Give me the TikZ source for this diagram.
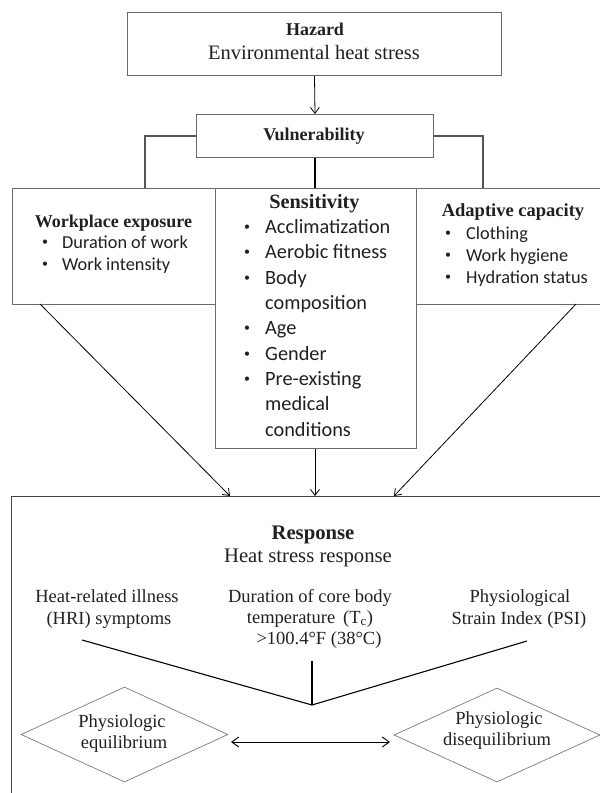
\documentclass[tikz,border=0pt]{standalone}
\usepackage{fontspec}
\setmainfont{Liberation Serif}
\newfontfamily\calib{Carlito}
\usetikzlibrary{arrows.meta,shapes.geometric}
\definecolor{boxgray}{HTML}{6A6A6A}
\definecolor{conngray}{HTML}{555555}
\definecolor{diagray}{HTML}{7A7A7A}
\definecolor{respgray}{HTML}{444444}
\definecolor{ink}{HTML}{231F20}
\newcommand{\fsz}[1]{\fontsize{#1}{#1}\selectfont}
\newcommand{\bitem}[2]{\makebox[0pt]{\raisebox{0.28ex}{\fsz{12}\textbullet}}\hspace{#1}#2}
\begin{document}
\begin{tikzpicture}[x=1pt,y=-1pt,
  box/.style={draw=boxgray, line width=1pt, inner sep=0pt, anchor=north west},
  lbl/.style={inner sep=0pt, text=ink, anchor=mid},
  lblw/.style={inner sep=0pt, text=ink, anchor=mid west},
  conn/.style={draw=conngray, line width=1.2pt},
  thickconn/.style={draw=black, line width=2pt},
  arr/.style={draw=black, line width=0.8pt, -{Straight Barb[length=6pt,width=9pt]}},
  dbl/.style={draw=black, line width=0.9pt, {Straight Barb[length=7pt,width=10pt]}-{Straight Barb[length=7pt,width=10pt]}},
  vline/.style={draw=black, line width=1.1pt},
  dia/.style={draw=diagray, line width=0.7pt, shape=diamond, inner sep=0pt},
  respbox/.style={draw=respgray, line width=1.2pt, inner sep=0pt, anchor=north west},
  sansS/.style={font=\calib\fsz{20.3}},
  sansW/.style={font=\calib\fsz{18.3}},
  serifL/.style={font=\fsz{18.5}}
]
\useasboundingbox (0,0) rectangle (600,793);

% boxes
\node[box, minimum width=374pt, minimum height=63pt] (haz) at (127,12) {};
\node[box, minimum width=237pt, minimum height=43pt] (vul) at (196,114) {};
\node[box, minimum width=203pt, minimum height=116pt] (wp) at (12,188) {};
\node[box, minimum width=201pt, minimum height=260pt] (sens) at (215,188) {};
\node[box, minimum width=190pt, minimum height=116pt] (ada) at (416,188) {};
\node[respbox, minimum width=620pt, minimum height=330pt] (resp) at (11,496) {};

% hazard text
\node[lbl, font=\bfseries\fsz{18}] (hazT) at (315,33) {Hazard};
\node[lbl, font=\fsz{20.5}] (hazS) at (314,57) {Environmental heat stress};
\node[lbl, font=\bfseries\fsz{18}] (vulT) at (314,138) {Vulnerability};

% hazard -> vulnerability
\draw[arr] (haz.south) -- (vul.north);

% branches
\coordinate (lb) at (145,188);
\coordinate (rb) at (483,188);
\draw[conn] (vul.west) -| (lb);
\draw[conn] (vul.east) -| (rb);
\draw[thickconn] (vul.south) -- (vul.south |- sens.north);

% workplace exposure
\node[lbl, font=\bfseries\fsz{18}] (wpT) at (113.5,225) {Workplace exposure};
\node[lblw, sansW] (wp1) at (45,246) {\bitem{17pt}{Duration of work}};
\node[lblw, sansW] (wp2) at (45,268) {\bitem{17pt}{Work intensity}};

% sensitivity
\node[lbl, font=\bfseries\fsz{20.3}] (seT) at (314.5,206) {Sensitivity};
\node[lblw, sansS] (se1) at (247,231) {\bitem{18pt}{Acclimatization}};
\node[lblw, sansS] (se2) at (247,256.4) {\bitem{18pt}{Aerobic fitness}};
\node[lblw, sansS] (se3) at (247,281.7) {\bitem{18pt}{Body}};
\node[lblw, sansS] (se3b) at (265,307.1) {composition};
\node[lblw, sansS] (se4) at (247,332.4) {\bitem{18pt}{Age}};
\node[lblw, sansS] (se5) at (247,357.8) {\bitem{18pt}{Gender}};
\node[lblw, sansS] (se6) at (247,383.1) {\bitem{18pt}{Pre-existing}};
\node[lblw, sansS] (se6b) at (265,408.5) {medical};
\node[lblw, sansS] (se6c) at (265,433.8) {conditions};

% adaptive capacity
\node[lbl, font=\bfseries\fsz{18.5}] (adT) at (513,214) {Adaptive capacity};
\node[lblw, sansW] (ad1) at (448,237) {\bitem{18pt}{Clothing}};
\node[lblw, sansW] (ad2) at (448,259) {\bitem{18pt}{Work hygiene}};
\node[lblw, sansW] (ad3) at (448,281) {\bitem{18pt}{Hydration status}};

% arrows into response
\coordinate (wpout) at (40,304);
\coordinate (adout) at (576,304);
\coordinate (rin1) at (230,496);
\coordinate (rin3) at (394,496);
\draw[arr] (wpout) -- (rin1);
\draw[arr] (sens.south -| vul.south) -- (vul.south |- resp.north);
\draw[arr] (adout) -- (rin3);

% response text
\node[lbl, font=\bfseries\fsz{20.7}] (reT) at (313,537) {Response};
\node[lbl, font=\fsz{20.7}] (reS) at (308,560) {Heat stress response};

\node[lbl, serifL] (h1) at (107,600) {Heat-related illness};
\node[lbl, serifL] (h2) at (109,622) {(HRI) symptoms};
\node[lbl, serifL] (d1) at (310,600) {Duration of core body};
\node[lbl, serifL] (d2) at (310,621) {temperature\hspace{8pt}(T\textsubscript{c})};
\node[lbl, serifL] (d3) at (319,642) {>100.4°F (38°C)};
\node[lbl, serifL] (p1) at (520,600) {Physiological};
\node[lbl, serifL] (p2) at (519,622) {Strain Index (PSI)};

% converging lines
\coordinate (l1) at (82,640);
\coordinate (r1) at (527,641);
\coordinate (c1) at (312,661);
\coordinate (v) at (312,705);
\draw[vline] (l1) -- (v) -- (r1);
\draw[thickconn] (c1) -- (v);

% diamonds
\node[dia, minimum width=207pt, minimum height=95pt] (eq) at (124.5,734.5) {};
\node[dia, minimum width=206pt, minimum height=94pt] (dis) at (497,735) {};
\node[lbl, serifL] (eq1) at (122,725) {Physiologic};
\node[lbl, serifL] (eq2) at (124,746) {equilibrium};
\node[lbl, serifL] (dis1) at (499,722) {Physiologic};
\node[lbl, serifL] (dis2) at (497,743) {disequilibrium};

\coordinate (al) at (231,742);
\coordinate (ar) at (390,742);
\draw[dbl] (al) -- (ar);
\end{tikzpicture}
\end{document}
